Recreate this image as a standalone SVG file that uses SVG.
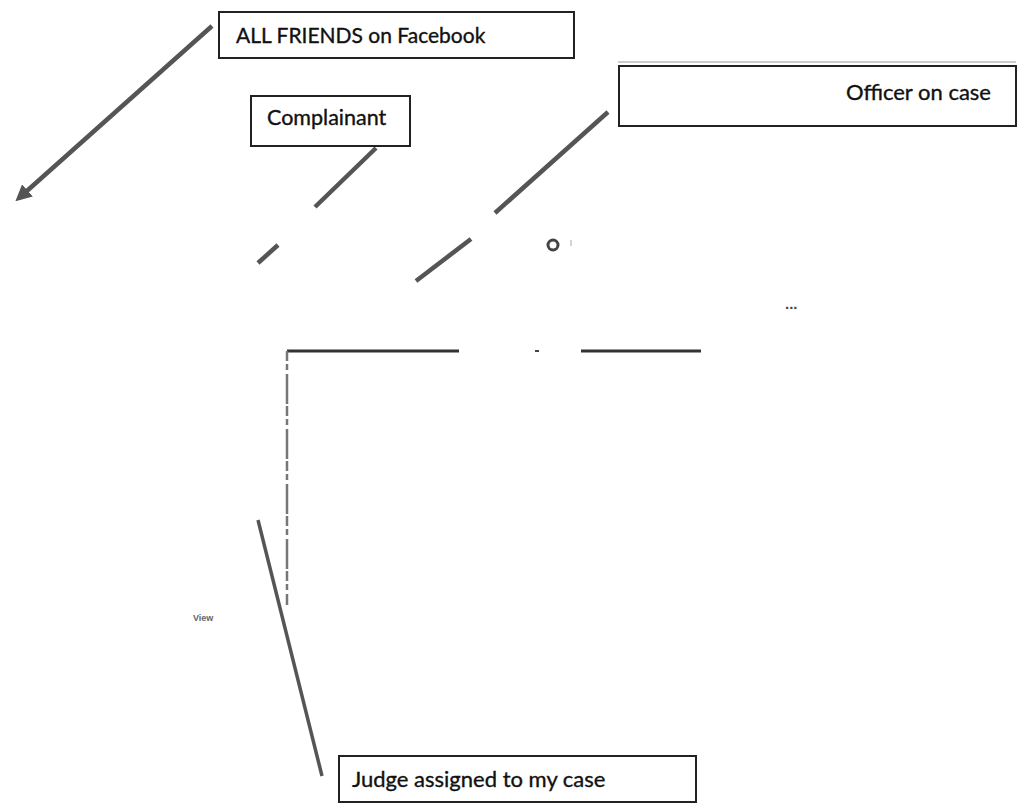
<svg xmlns="http://www.w3.org/2000/svg" width="1023" height="811" viewBox="0 0 1023 811">
<defs>
<style>
.box{fill:#fff;stroke:#222;stroke-width:2}
.lbl{font-family:Lato,"Liberation Sans",sans-serif;fill:#111;stroke:#111;stroke-width:0.35}
.conn{stroke:#555;stroke-width:4.5;fill:none;stroke-linecap:butt}
.frame{stroke:#333;stroke-width:3;fill:none}
</style>
<marker id="ah" viewBox="0 0 10 10" refX="7" refY="5" markerWidth="3.6" markerHeight="3.6" orient="auto-start-reverse" markerUnits="strokeWidth">
<path d="M0,0 L10,5 L0,10 z" fill="#555"/>
</marker>
</defs>
<rect width="1023" height="811" fill="#fff"/>
<g id="connectors">
<path class="conn" d="M212,26 L19,198" marker-end="url(#ah)"/>
<path class="conn" d="M376,148 L315,207"/>
<path class="conn" d="M278,245 L258,263"/>
<path class="conn" d="M608,112 L495,213"/>
<path class="conn" d="M471,239 L416,281"/>
<path class="conn" d="M258,520 L322,776" style="stroke-width:3.5"/>
</g>
<g id="frame">
<path class="frame" d="M287,351 L459,351 M581,351 L701,351"/>
<path d="M535,351 L539,351" stroke="#444" stroke-width="2"/>
<path d="M287,351 L287,605" stroke="#777" stroke-width="2.5" stroke-dasharray="10,3,6,4,30,2" fill="none"/>
<circle cx="553" cy="245" r="5" fill="none" stroke="#444" stroke-width="3"/>
<path d="M571,240 L571,246" stroke="#aaa" stroke-width="1"/>
<text x="785" y="309" font-family="Liberation Sans,sans-serif" font-size="15" font-weight="bold" fill="#444">...</text>
<text x="193" y="621" font-family="Liberation Sans,sans-serif" font-size="9" font-weight="bold" fill="#666">View</text>
</g>
<g id="node-facebook">
<rect class="box" x="219" y="12" width="355" height="46"/>
<text class="lbl" x="236" y="43" font-size="21">ALL FRIENDS on Facebook</text>
</g>
<g id="node-complainant">
<rect class="box" x="251" y="96" width="159" height="50"/>
<text class="lbl" x="267" y="125" font-size="21.5">Complainant</text>
</g>
<g id="node-officer">
<path d="M618,62 L1016,62" stroke="#ccc" stroke-width="2"/>
<rect class="box" x="619" y="66" width="397" height="60"/>
<text class="lbl" x="991" y="100" font-size="22" text-anchor="end">Officer on case</text>
</g>
<g id="node-judge">
<rect class="box" x="339" y="756" width="357" height="46"/>
<text class="lbl" x="352" y="787" font-size="22">Judge assigned to my case</text>
</g>
</svg>
